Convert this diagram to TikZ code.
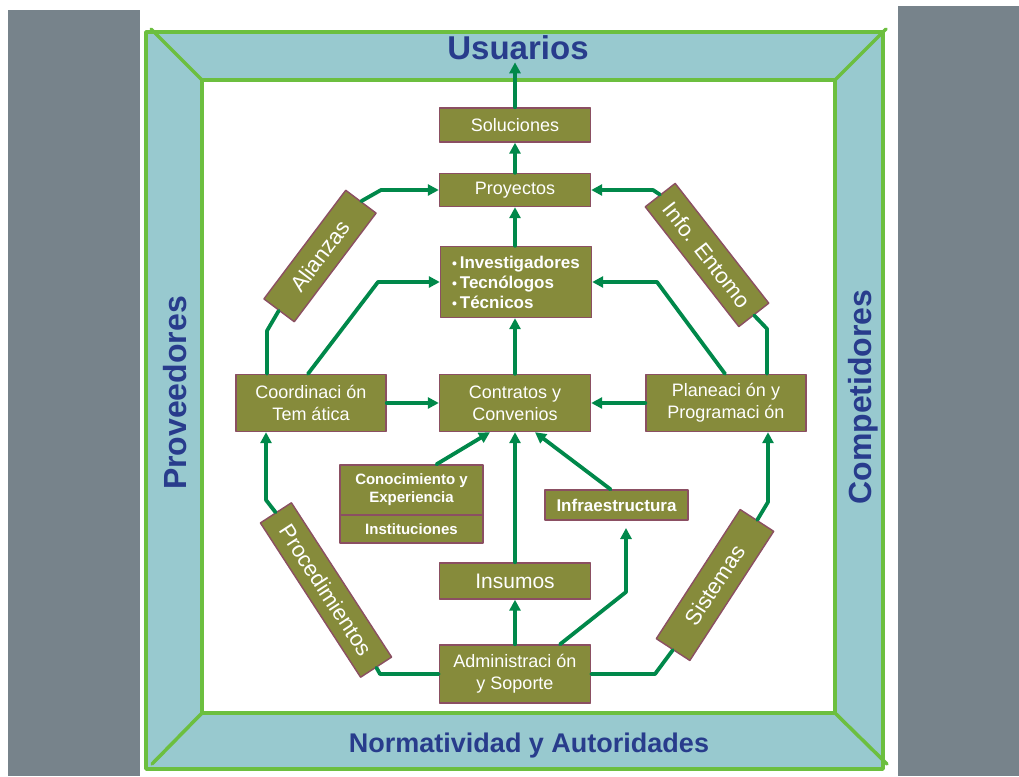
\documentclass[tikz,border=0pt]{standalone}
\usepackage{fontspec}
\setmainfont{Liberation Sans}
\usetikzlibrary{arrows.meta}
\definecolor{gris}{HTML}{77838B}
\definecolor{banda}{HTML}{98C9CF}
\definecolor{marco}{HTML}{6CBF3F}
\definecolor{flecha}{HTML}{00884A}
\definecolor{oliva}{HTML}{868B3B}
\definecolor{borde}{HTML}{8B4F62}
\definecolor{titulo}{HTML}{283C8C}

\begin{document}
\begin{tikzpicture}[line cap=round,line join=round,>={Triangle[length=11pt,width=11pt]},x=1.0pt,y=-1.0pt,
  caja/.style={draw=borde,line width=1.4pt,fill=oliva,text=white,align=center,inner sep=0pt,font=\fontsize{18}{22}\selectfont},
  cajab/.style={caja,font=\fontsize{15}{18}\selectfont\bfseries},
  cajag/.style={caja,font=\fontsize{22}{26}\selectfont},
  rotulo/.style={text=titulo,inner sep=2pt,font=\fontsize{32}{36}\selectfont\bfseries},
  flujo/.style={draw=flecha,line width=3.8pt}]
\useasboundingbox (0.,0.) rectangle (1019.,776.);
\fill[gris] (8.,10.) rectangle (140.,776.);
\fill[gris] (898.,6.) rectangle (1019.,776.);
\filldraw[fill=banda,draw=marco,line width=3.5pt] (146.,32.) rectangle (883.,769.);
\filldraw[fill=white,draw=marco,line width=3.5pt] (202.,80.) rectangle (835.,713.);
\draw[marco,line width=3.5pt] (151.,29.) -- (202.,80.);
\draw[marco,line width=3.5pt] (886.,29.) -- (835.,80.);
\draw[marco,line width=3.5pt] (152.,764.) -- (202.,713.);
\draw[marco,line width=3.5pt] (835.,713.) -- (887.,764.);

\node[rotulo,font=\fontsize{33}{36}\selectfont\bfseries] (usu) at (518.,48.) {Usuarios};
\node[rotulo,font=\fontsize{27}{30}\selectfont\bfseries] (nor) at (529.,746.) {Normatividad y Autoridades};
\node[rotulo,rotate=90] (prv) at (175.,393.) {Proveedores};
\node[rotulo,rotate=90] (cmp) at (863.,397.) {Competidores};

\node[caja,minimum width=151pt,minimum height=34pt] (sol) at (515.,125.) {Soluciones};
\node[caja,minimum width=151pt,minimum height=33pt] (proy) at (515.,190.) {Proyectos};
\node[caja,minimum width=151pt,minimum height=71pt,align=left,font=\fontsize{17}{20}\selectfont\bfseries] (inv) at (516.,282.)
  {{\fontsize{14}{14}\selectfont\textbullet}\,Investigadores\\{\fontsize{14}{14}\selectfont\textbullet}\,Tecnólogos\\{\fontsize{14}{14}\selectfont\textbullet}\,Técnicos};
\node[caja,minimum width=151pt,minimum height=57pt] (ctr) at (515.,403.) {Contratos y\\Convenios};
\node[caja,minimum width=150pt,minimum height=57pt] (coo) at (311.,403.) {Coordinaci ón\\Tem ática};
\node[caja,minimum width=160pt,minimum height=57pt] (pla) at (726.,403.) {Planeaci ón y\\Programaci ón};
\node[cajab,minimum width=143pt,minimum height=50pt] (con) at (411.5,490.) {Conocimiento y\\Experiencia};
\node[cajab,minimum width=143pt,minimum height=28pt] (inst) at (411.5,529.) {Instituciones};
\node[cajab,minimum width=143pt,minimum height=30pt,font=\fontsize{17}{20}\selectfont\bfseries] (inf) at (616.5,505.) {Infraestructura};
\node[caja,minimum width=151pt,minimum height=36pt,font=\fontsize{21}{24}\selectfont] (ism) at (515.,581.) {Insumos};
\node[caja,minimum width=151pt,minimum height=58pt] (adm) at (515.,674.) {Administraci ón\\y Soporte};

\node[cajag,rotate=53,minimum width=136pt,minimum height=38pt] (ali) at (320.,256.) {Alianzas};
\node[cajag,rotate=-52,minimum width=152pt,minimum height=38pt] (ent) at (707.,255.) {Info. Entomo};
\node[cajag,rotate=-57,minimum width=184pt,minimum height=37pt] (proc) at (326.,590.) {Procedimientos};
\node[cajag,rotate=57,minimum width=154pt,minimum height=40pt] (sis) at (715.,585.) {Sistemas};
\coordinate (infb) at (626.,528.);

% columna central
\draw[flujo,->] (adm) -- (ism);
\draw[flujo,->] (ism) -- (ctr);
\draw[flujo,->] (ctr.north) -- (ctr.north |- inv.south);
\draw[flujo,->] (inv.north -| proy.south) -- (proy.south);
\draw[flujo,->] (proy) -- (sol);
\draw[flujo,->] (sol.north) -- (sol.north |- usu.south);
\draw[flujo,->] (coo) -- (ctr);
\draw[flujo,->] (pla) -- (ctr);
\draw[flujo,->] ([xshift=25pt]con.north) -- ([xshift=-25pt]ctr.south);
\draw[flujo,->] ([xshift=-6pt]inf.north) -- ([xshift=20pt]ctr.south);
\draw[flujo,->] ([xshift=45pt]adm.north) -- (626.,592.) -- (infb);

% lado izquierdo
\draw[flujo] ([xshift=-44pt]coo.north) -- ++(0.,-43.) -- (ali.west);
\draw[flujo,->] (ali.east) -- (381.,190.) -- (proy.west);
\draw[flujo,->] ([xshift=-3pt]coo.north) -- (378.,282.) -- (inv.west);
\draw[flujo] (adm.west) -- (380.,674.) -- (proc.east);
\draw[flujo,->] (proc.west) -- (266.,500.) -- ([xshift=-45pt]coo.south);

% lado derecho
\draw[flujo,->] ([xshift=-1pt]pla.north) -- (657.,282.) -- (inv.east);
\draw[flujo] ([xshift=41pt]pla.north) -- ++(0.,-45.) -- (ent.east);
\draw[flujo,->] (ent.west) -- (653.,190.) -- (proy.east);
\draw[flujo] (adm.east) -- (655.,674.) -- (sis.west);
\draw[flujo,->] (sis.east) -- (768.,502.) -- ([xshift=42pt]pla.south);
\end{tikzpicture}
\end{document}
